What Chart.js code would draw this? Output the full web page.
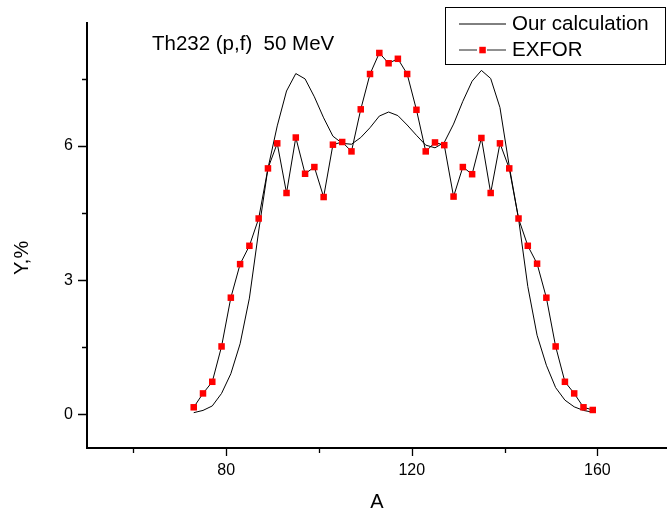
<!DOCTYPE html>
<html>
<head>
<meta charset="utf-8">
<script src="https://cdn.jsdelivr.net/npm/chart.js@4"></script>
<style>
  html, body { margin: 0; padding: 0; background: #fff; }
  canvas { display: block; }
</style>
</head>
<body>
<canvas id="chart" width="667" height="517"></canvas>
<script>
// Mass number A of each fission fragment
const massNumbers = [73, 75, 77, 79, 81, 83, 85, 87, 89, 91, 93, 95, 97, 99, 101, 103, 105, 107, 109, 111, 113, 115,
  117, 119, 121, 123, 125, 127, 129, 131, 133, 135, 137, 139, 141, 143, 145, 147, 149, 151, 153, 155, 157, 159];

// Calculated mass yield, %
const calcYield = [0.04, 0.09, 0.19, 0.47, 0.91, 1.58, 2.60, 4.10, 5.50, 6.45, 7.23, 7.62, 7.50, 7.10, 6.63, 6.22, 6.06, 6.04, 6.19, 6.41, 6.67, 6.76,
  6.68, 6.47, 6.24, 6.02, 5.96, 6.08, 6.49, 7.00, 7.45, 7.69, 7.51, 6.86, 5.55, 4.38, 2.86, 1.77, 1.10, 0.60, 0.32, 0.17, 0.09, 0.05];

// Measured mass yield (EXFOR), %
const exforYield = [0.16, 0.47, 0.73, 1.52, 2.61, 3.36, 3.77, 4.38, 5.50, 6.06, 4.95, 6.19, 5.38, 5.53, 4.86, 6.03, 6.09, 5.88, 6.82, 7.61, 8.08, 7.85,
  7.95, 7.61, 6.81, 5.88, 6.08, 6.02, 4.87, 5.53, 5.37, 6.18, 4.95, 6.06, 5.50, 4.38, 3.77, 3.37, 2.61, 1.52, 0.73, 0.47, 0.16, 0.10];

// Axis ticks
const xTickValues = [60, 80, 100, 120, 140, 160];
const xLabelStep = 40;
const yTickValues = [0, 1.5, 3, 4.5, 6, 7.5];
const yLabelStep = 3;

const seriesNames = ['Our calculation', 'EXFOR'];
const reactionLabel = 'Th232 (p,f)  50 MeV';
const reactionLabelAt = { a: 64, y: 8.27 };

const FONT = '"Liberation Sans", Arial, Helvetica, sans-serif';

const toPoints = (ys) => massNumbers.map((a, i) => ({ x: a, y: ys[i] }));

// Tick marks (long for labelled values, short otherwise), annotation, Y title and framed legend
const decorations = {
  id: 'decorations',
  afterDraw(chart) {
    const { ctx, chartArea: area, scales: { x, y } } = chart;
    ctx.save();

    ctx.strokeStyle = '#000';
    ctx.lineWidth = 1.3;
    ctx.beginPath();
    xTickValues.forEach(v => {
      const px = Math.round(x.getPixelForValue(v)) + 0.5;
      const len = v % xLabelStep === 0 ? 8 : 5;
      ctx.moveTo(px, area.bottom);
      ctx.lineTo(px, area.bottom + len);
    });
    yTickValues.forEach(v => {
      const py = Math.round(y.getPixelForValue(v)) + 0.5;
      const len = v % yLabelStep === 0 ? 9 : 5;
      ctx.moveTo(area.left - len, py);
      ctx.lineTo(area.left, py);
    });
    ctx.stroke();

    // reaction label inside the plot
    ctx.fillStyle = '#000';
    ctx.font = '20.5px ' + FONT;
    ctx.textAlign = 'left';
    ctx.textBaseline = 'middle';
    ctx.fillText(reactionLabel, x.getPixelForValue(reactionLabelAt.a), y.getPixelForValue(reactionLabelAt.y));

    // Y axis title
    ctx.save();
    ctx.translate(area.left - 65, y.getPixelForValue(3.5));
    ctx.rotate(-Math.PI / 2);
    ctx.textAlign = 'center';
    ctx.font = '20px ' + FONT;
    ctx.fillText('Y,%', 0, 0);
    ctx.restore();

    // legend box
    const bw = 220, bh = 57;
    const bx = chart.width - 2 - bw, by = 7;
    ctx.fillStyle = '#fff';
    ctx.fillRect(bx, by, bw, bh);
    ctx.strokeStyle = '#000';
    ctx.lineWidth = 1;
    ctx.strokeRect(bx + 0.5, by + 0.5, bw, bh);

    const lx0 = bx + 14, lx1 = bx + 61, tx = bx + 67;
    const row1 = by + 16.5, row2 = by + 42.5;
    ctx.beginPath();
    ctx.moveTo(lx0, row1 + 0.5);
    ctx.lineTo(lx1, row1 + 0.5);
    ctx.stroke();

    ctx.strokeStyle = '#222';
    ctx.beginPath();
    ctx.moveTo(lx0, row2 + 0.5);
    ctx.lineTo(lx0 + 18, row2 + 0.5);
    ctx.moveTo(lx1 - 19, row2 + 0.5);
    ctx.lineTo(lx1, row2 + 0.5);
    ctx.stroke();
    ctx.fillStyle = '#ff0000';
    const mx = (lx0 + lx1) / 2;
    ctx.fillRect(mx - 3.2, row2 - 2.7, 6.5, 6.5);

    ctx.fillStyle = '#000';
    ctx.font = '20.5px ' + FONT;
    ctx.textAlign = 'left';
    ctx.textBaseline = 'middle';
    ctx.fillText(seriesNames[0], tx, row1 + 1);
    ctx.fillText(seriesNames[1], tx, row2 + 1);

    ctx.restore();
  }
};

new Chart(document.getElementById('chart'), {
  type: 'line',
  data: {
    datasets: [
      {
        label: seriesNames[0],
        data: toPoints(calcYield),
        borderColor: '#000',
        borderWidth: 1,
        pointRadius: 0,
        tension: 0,
        order: 1
      },
      {
        label: seriesNames[1],
        data: toPoints(exforYield),
        borderColor: '#000',
        borderWidth: 1,
        pointStyle: 'rect',
        pointRadius: 4.6,
        pointBackgroundColor: '#ff0000',
        pointBorderWidth: 0,
        tension: 0,
        order: 0
      }
    ]
  },
  options: {
    responsive: false,
    animation: false,
    devicePixelRatio: 1,
    layout: { autoPadding: false, padding: { top: 23, left: 0, right: 0, bottom: 0 } },
    plugins: {
      legend: { display: false },
      tooltip: { enabled: false }
    },
    scales: {
      x: {
        type: 'linear',
        min: 50,
        max: 175,
        afterFit: s => { s.height = 69; s.paddingLeft = 0; s.paddingRight = 0; },
        afterBuildTicks: s => { s.ticks = xTickValues.map(v => ({ value: v })); },
        grid: { drawOnChartArea: false, tickLength: 8, tickColor: 'rgba(0,0,0,0)' },
        border: { display: true, color: '#000', width: 2 },
        ticks: {
          color: '#000',
          font: { family: FONT, size: 16 },
          padding: 5,
          maxRotation: 0,
          autoSkip: false,
          callback: v => (v % xLabelStep === 0 ? String(v) : '')
        },
        title: {
          display: true,
          text: 'A',
          color: '#000',
          font: { family: FONT, size: 20 },
          padding: { top: 0, bottom: 3 }
        }
      },
      y: {
        type: 'linear',
        min: -0.75,
        max: 8.75,
        afterFit: s => { s.width = 87; s.paddingTop = 0; s.paddingBottom = 0; },
        afterBuildTicks: s => { s.ticks = yTickValues.map(v => ({ value: v })); },
        grid: { drawOnChartArea: false, tickLength: 8, tickColor: 'rgba(0,0,0,0)' },
        border: { display: true, color: '#000', width: 2 },
        ticks: {
          color: '#000',
          font: { family: FONT, size: 16 },
          padding: 6,
          autoSkip: false,
          callback: v => (v % yLabelStep === 0 ? String(v) : '')
        }
      }
    }
  },
  plugins: [decorations]
});
</script>
</body>
</html>
